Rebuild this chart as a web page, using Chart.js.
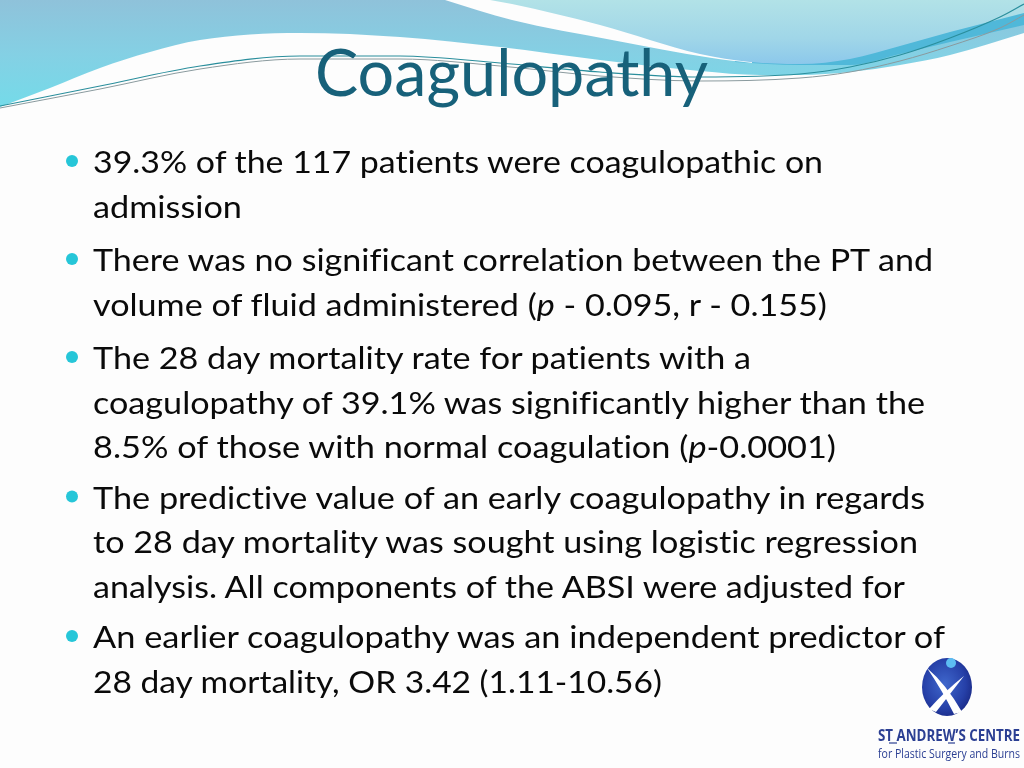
<!DOCTYPE html>
<html>
<head>
<meta charset="utf-8">
<script src="https://cdn.jsdelivr.net/npm/chart.js@4.4.1/dist/chart.umd.min.js"></script>
<style>
  html, body { margin:0; padding:0; background:#fdfdfd; }
  #wrap { position:relative; width:1024px; height:768px; overflow:hidden; background:#fdfdfd; }
  #bg { position:absolute; left:0; top:0; width:1024px; height:768px; }
  #fg { position:absolute; left:0; top:0; }
  #fg text { font-variant-ligatures: none; font-feature-settings: "liga" 0, "clig" 0, "dlig" 0; }
</style>
</head>
<body>
<div id="wrap">
  <canvas id="bg" width="1024" height="768"></canvas>
  <svg id="fg" width="1024" height="768" xmlns="http://www.w3.org/2000/svg"></svg>
</div>
<script>
// ---------------- slide content ----------------
const slideTitle = "Coagulopathy";
// each bullet: list of wrapped lines; *p* marks italic text
const bulletLines = [
  ["39.3% of the 117 patients were coagulopathic on", "admission"],
  ["There was no significant correlation between the PT and", "volume of fluid administered (*p* - 0.095, r - 0.155)"],
  ["The 28 day mortality rate for patients with a", "coagulopathy of 39.1% was significantly higher than the", "8.5% of those with normal coagulation (*p*-0.0001)"],
  ["The predictive value of an early coagulopathy in regards", "to 28 day mortality was sought using logistic regression", "analysis. All components of the ABSI were adjusted for"],
  ["An earlier coagulopathy was an independent predictor of", "28 day mortality, OR 3.42 (1.11-10.56)"]
];
const logoLine1 = "ST ANDREW\u2019S CENTRE";
const logoLine2 = "for Plastic Surgery and Burns";

// ---------------- header decoration curves (x / y in slide pixels) ----------------
const skyEdgeX   = [0, 50, 100, 150, 200, 300, 400, 500, 600, 700, 760, 800, 850, 900, 950, 1024];
const skyEdgeY   = [107, 88, 68, 52, 40, 33, 37, 47, 60, 71, 75, 75, 72, 65, 55, 33];
const bandEdgeX  = [735, 800, 850, 900, 950, 1024];
const bandEdgeY  = [62, 65, 65, 54, 42, 25];
const gapEdgeX   = [445, 512, 612, 712, 752];
const gapEdgeY   = [0, 20, 40, 58, 63];
const paleEdgeX  = [490, 512, 600, 700, 750, 800, 850, 900, 950, 1024];
const paleEdgeY  = [0, 4, 25, 54, 62, 64, 59, 46, 32, 13];
const threadAX   = [0, 100, 200, 300, 400, 500, 600, 700, 800, 850, 900, 950, 1000, 1024];
const threadAY   = [106, 86, 66, 56, 56, 63, 72, 77, 74, 67, 55, 38, 17, 4];
const threadBY   = [108, 89, 69, 59, 59, 66, 76, 81, 78, 72, 61, 46, 28, 15];

// ---------------- text layout ----------------
const textLeft = 93;
const lineBaselines = [[173, 217.5], [271, 315.5], [369, 413.5, 458], [508.5, 553, 597.5], [648, 692.5]];
const lineRights    = [[823, 242], [933, 827], [751, 925, 836], [925, 918, 905], [945, 662]];

function pts(xs, ys) { return xs.map((x, i) => ({ x: x, y: ys[i] })); }
function vGrad(ctx, y0, y1, stops) {
  const g = ctx.createLinearGradient(0, y0, 0, y1);
  stops.forEach(s => g.addColorStop(s[0], s[1]));
  return g;
}

new Chart(document.getElementById('bg'), {
  type: 'line',
  data: {
    datasets: [
      { label: 'sky', data: pts(skyEdgeX, skyEdgeY), order: 10, fill: { value: 0 }, borderWidth: 0, borderColor: 'rgba(0,0,0,0)',
        backgroundColor: c => vGrad(c.chart.ctx, 0, 108, [[0, '#8fc2da'], [0.5, '#84d0e4'], [1, '#74dbe9']]) },
      { label: 'band', data: pts(bandEdgeX, bandEdgeY), order: 9, fill: { value: 0 }, borderWidth: 0, borderColor: 'rgba(0,0,0,0)',
        backgroundColor: '#50b8d9' },
      { label: 'gap', data: pts(gapEdgeX, gapEdgeY), order: 8, fill: { value: 0 }, borderWidth: 0, borderColor: 'rgba(0,0,0,0)',
        backgroundColor: '#fdfdfd' },
      { label: 'pale', data: pts(paleEdgeX, paleEdgeY), order: 7, fill: { value: 0 }, borderWidth: 0, borderColor: 'rgba(0,0,0,0)',
        backgroundColor: c => vGrad(c.chart.ctx, 0, 64, [[0, '#b2e2e7'], [0.6, '#a0d6e8'], [1, '#8cc8eb']]) },
      { label: 'threadB', data: pts(threadAX, threadBY), order: 2, fill: false, borderWidth: 1, borderColor: '#8a9a9e' },
      { label: 'threadA', data: pts(threadAX, threadAY), order: 1, fill: false, borderWidth: 1.2, borderColor: '#2a8e9c' }
    ]
  },
  options: {
    responsive: false,
    animation: false,
    devicePixelRatio: 1,
    layout: { padding: 0 },
    elements: { point: { radius: 0, hoverRadius: 0 }, line: { cubicInterpolationMode: 'monotone' } },
    scales: {
      x: { type: 'linear', min: 0, max: 1024, display: false },
      y: { type: 'linear', min: 0, max: 768, reverse: true, display: false }
    },
    plugins: { legend: { display: false }, tooltip: { enabled: false }, filler: { propagate: false } }
  }
});

// ---------------- text overlay ----------------
const NS = 'http://www.w3.org/2000/svg';
const svg = document.getElementById('fg');
function el(name, attrs, parent) {
  const e = document.createElementNS(NS, name);
  for (const k in attrs) e.setAttribute(k, attrs[k]);
  (parent || svg).appendChild(e);
  return e;
}
// defs for logo
const defs = el('defs', {});
const rg = el('radialGradient', { id: 'logoGrad', cx: '45%', cy: '45%', r: '60%' }, defs);
el('stop', { offset: '0', 'stop-color': '#3f67cc' }, rg);
el('stop', { offset: '0.7', 'stop-color': '#2640a8' }, rg);
el('stop', { offset: '1', 'stop-color': '#1a2a86' }, rg);

// title
const t = el('text', { x: 315, y: 96, 'font-family': 'Lato, "Open Sans", sans-serif', 'font-size': 65,
  fill: '#17617a', textLength: 393, lengthAdjust: 'spacingAndGlyphs' });
t.textContent = slideTitle;

// bullets
bulletLines.forEach((lines, bi) => {
  const firstBase = lineBaselines[bi][0];
  el('circle', { cx: 72, cy: firstBase - 12, r: 6, fill: '#26c6d8' });
  lines.forEach((line, li) => {
    const tx = el('text', { x: textLeft, y: lineBaselines[bi][li], 'font-family': 'Lato, "Open Sans", sans-serif',
      'font-size': 30, fill: '#0a0a0a', textLength: lineRights[bi][li] - textLeft, lengthAdjust: 'spacingAndGlyphs' });
    line.split('*').forEach((part, pi) => {
      if (!part) return;
      const ts = el('tspan', pi % 2 === 1 ? { 'font-style': 'italic' } : {}, tx);
      ts.textContent = part;
    });
  });
});

// logo
el('ellipse', { cx: 947, cy: 687, rx: 25, ry: 29, fill: 'url(#logoGrad)' });
el('path', { d: 'M 927 668 Q 946 684 962 712 L 954 714 Q 942 690 927 668 Z', fill: '#ffffff' });
el('path', { d: 'M 964 676 Q 946 690 929 709 L 936 712 Q 950 694 964 676 Z', fill: '#ffffff' });
el('circle', { cx: 951, cy: 663, r: 5, fill: '#5cbcf2' });
const l1 = el('text', { x: 878, y: 741, 'font-family': '"Liberation Sans Narrow", "Open Sans", sans-serif', 'font-size': 16,
  'font-weight': 'bold', fill: '#2b3f93', textLength: 142, lengthAdjust: 'spacingAndGlyphs' });
l1.textContent = logoLine1;
el('line', { x1: 889, y1: 743, x2: 897, y2: 743, stroke: '#2b3f93', 'stroke-width': 1.2 });
el('line', { x1: 948, y1: 743, x2: 955, y2: 743, stroke: '#2b3f93', 'stroke-width': 1.2 });
const l2 = el('text', { x: 878, y: 758, 'font-family': '"Liberation Sans Narrow", "Open Sans", sans-serif', 'font-size': 13,
  fill: '#2b3f93', textLength: 142, lengthAdjust: 'spacingAndGlyphs' });
l2.textContent = logoLine2;
</script>
</body>
</html>
